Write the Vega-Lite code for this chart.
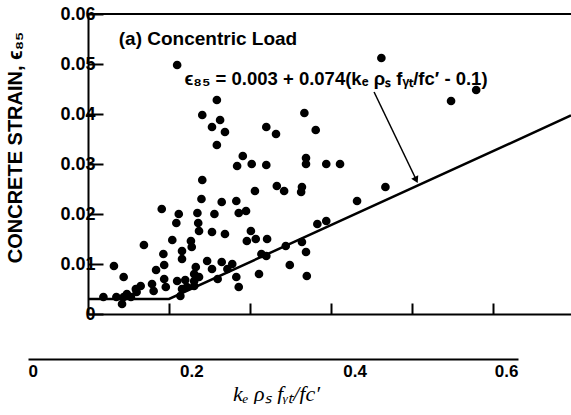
{
  "$schema": "https://vega.github.io/schema/vega-lite/v6.json",
  "width": 483,
  "height": 300,
  "padding": {"left": 5, "top": 5, "right": 0, "bottom": 0},
  "background": "white",
  "config": {
    "view": {"stroke": null},
    "font": "Liberation Sans",
    "axis": {"grid": false, "domainColor": "black", "tickColor": "black", "labelColor": "black", "titleColor": "black", "domainWidth": 2, "tickWidth": 2}
  },
  "datasets": {
    "pts": [
      {"k":0.110,"e":0.0498},{"k":0.159,"e":0.0428},{"k":0.141,"e":0.0398},{"k":0.163,"e":0.0388},{"k":0.153,"e":0.0374},
      {"k":0.169,"e":0.0364},{"k":0.159,"e":0.0338},{"k":0.220,"e":0.0374},{"k":0.232,"e":0.0360},{"k":0.191,"e":0.0316},
      {"k":0.184,"e":0.0296},{"k":0.202,"e":0.0300},{"k":0.220,"e":0.0298},{"k":0.362,"e":0.0512},{"k":0.448,"e":0.0426},
      {"k":0.479,"e":0.0448},{"k":0.267,"e":0.0402},{"k":0.281,"e":0.0368},{"k":0.269,"e":0.0312},{"k":0.269,"e":0.0300},
      {"k":0.294,"e":0.0300},{"k":0.311,"e":0.0300},{"k":0.141,"e":0.0268},{"k":0.206,"e":0.0246},{"k":0.233,"e":0.0256},
      {"k":0.242,"e":0.0246},{"k":0.263,"e":0.0244},{"k":0.264,"e":0.0254},{"k":0.332,"e":0.0226},{"k":0.367,"e":0.0254},
      {"k":0.283,"e":0.0180},{"k":0.294,"e":0.0186},{"k":0.140,"e":0.0230},{"k":0.165,"e":0.0224},{"k":0.183,"e":0.0226},
      {"k":0.195,"e":0.0206},{"k":0.186,"e":0.0202},{"k":0.091,"e":0.0210},{"k":0.112,"e":0.0200},{"k":0.109,"e":0.0182},
      {"k":0.135,"e":0.0202},{"k":0.136,"e":0.0182},{"k":0.137,"e":0.0166},{"k":0.156,"e":0.0200},{"k":0.153,"e":0.0164},
      {"k":0.169,"e":0.0160},{"k":0.127,"e":0.0146},{"k":0.128,"e":0.0134},{"k":0.104,"e":0.0148},{"k":0.069,"e":0.0138},
      {"k":0.201,"e":0.0166},{"k":0.196,"e":0.0146},{"k":0.207,"e":0.0150},{"k":0.221,"e":0.0150},{"k":0.244,"e":0.0136},
      {"k":0.264,"e":0.0144},{"k":0.269,"e":0.0124},{"k":0.214,"e":0.0120},{"k":0.220,"e":0.0116},{"k":0.093,"e":0.0120},
      {"k":0.116,"e":0.0126},{"k":0.116,"e":0.0110},{"k":0.032,"e":0.0096},{"k":0.094,"e":0.0098},{"k":0.084,"e":0.0088},
      {"k":0.133,"e":0.0094},{"k":0.131,"e":0.0080},{"k":0.147,"e":0.0106},{"k":0.153,"e":0.0090},{"k":0.165,"e":0.0104},
      {"k":0.172,"e":0.0090},{"k":0.178,"e":0.0100},{"k":0.183,"e":0.0074},{"k":0.160,"e":0.0070},{"k":0.186,"e":0.0054},
      {"k":0.211,"e":0.0080},{"k":0.249,"e":0.0098},{"k":0.270,"e":0.0076},{"k":0.044,"e":0.0074},{"k":0.094,"e":0.0070},
      {"k":0.096,"e":0.0054},{"k":0.110,"e":0.0066},{"k":0.120,"e":0.0068},{"k":0.131,"e":0.0066},{"k":0.137,"e":0.0074},
      {"k":0.131,"e":0.0056},{"k":0.065,"e":0.0056},{"k":0.059,"e":0.0050},{"k":0.060,"e":0.0044},{"k":0.048,"e":0.0040},
      {"k":0.044,"e":0.0034},{"k":0.019,"e":0.0034},{"k":0.042,"e":0.0020},{"k":0.079,"e":0.0060},{"k":0.114,"e":0.0036},
      {"k":0.081,"e":0.0046},{"k":0.122,"e":0.0054},{"k":0.116,"e":0.0050},{"k":0.035,"e":0.0034},{"k":0.053,"e":0.0034}
    ],
    "fit": [
      {"k":0.0,"e":0.003},{"k":0.1,"e":0.003},{"k":0.596,"e":0.0397}
    ],
    "lower": [{"k":0.0},{"k":0.6}],
    "one": [{}]
  },
  "layer": [
    {
      "layer": [
        {
          "data": {"name": "pts"},
          "mark": {"type": "circle", "size": 75, "color": "black", "opacity": 1},
          "encoding": {
            "x": {"field": "k", "type": "quantitative",
                  "scale": {"domain": [0, 0.596], "nice": false, "zero": false},
                  "axis": {"orient": "bottom", "title": null, "labels": false, "values": [0.1, 0.2, 0.3, 0.4, 0.5], "tickSize": -11}},
            "y": {"field": "e", "type": "quantitative",
                  "scale": {"domain": [0, 0.06], "nice": false},
                  "axis": {"values": [0, 0.01, 0.02, 0.03, 0.04, 0.05, 0.06], "tickSize": -15, "labelPadding": 8,
                           "labelFont": "Liberation Sans", "labelFontWeight": "bold", "labelFontSize": 18,
                           "labelExpr": "datum.value == 0 ? '0' : format(datum.value, '.2f')",
                           "title": "CONCRETE STRAIN, ϵ₈₅", "titleFont": "Liberation Sans", "titleFontWeight": "bold", "titleFontSize": 20,
                           "titlePadding": 34, "titleY": 133}}
          }
        },
        {
          "data": {"name": "fit"},
          "mark": {"type": "line", "color": "black", "strokeWidth": 2.5},
          "encoding": {
            "x": {"field": "k", "type": "quantitative"},
            "y": {"field": "e", "type": "quantitative"}
          }
        },
        {
          "data": {"name": "one"},
          "mark": {"type": "rule", "color": "black", "strokeWidth": 2},
          "encoding": {"y": {"datum": 0.06}}
        },
        {
          "data": {"name": "one"},
          "mark": {"type": "text", "text": "(a)  Concentric Load", "align": "left", "baseline": "middle", "font": "Liberation Sans", "fontWeight": "bold", "fontSize": 19, "color": "black"},
          "encoding": {"x": {"datum": 0.038}, "y": {"datum": 0.055}}
        },
        {
          "data": {"name": "one"},
          "mark": {"type": "text", "text": "ϵ₈₅ = 0.003 + 0.074(kₑ ρₛ fᵧₜ/fc′ - 0.1)", "align": "left", "baseline": "middle", "font": "Liberation Sans", "fontWeight": "bold", "fontSize": 18.5, "color": "black"},
          "encoding": {"x": {"datum": 0.119}, "y": {"datum": 0.047}}
        },
        {
          "data": {"name": "one"},
          "mark": {"type": "rule", "color": "black", "strokeWidth": 1.5},
          "encoding": {"x": {"datum": 0.353}, "y": {"datum": 0.0444}, "x2": {"datum": 0.404}, "y2": {"datum": 0.0272}}
        },
        {
          "data": {"name": "one"},
          "mark": {"type": "point", "shape": "triangle-up", "filled": true, "color": "black", "size": 60, "angle": 154, "opacity": 1},
          "encoding": {"x": {"datum": 0.405}, "y": {"datum": 0.0268}}
        }
      ]
    },
    {
      "data": {"name": "lower"},
      "mark": {"type": "point", "opacity": 0},
      "encoding": {
        "x": {"field": "k", "type": "quantitative",
              "scale": {"domain": [0, 0.6], "range": [-60, 430], "nice": false},
              "axis": {"orient": "bottom", "offset": 45, "values": [0, 0.2, 0.4, 0.6], "ticks": false,
                       "labelFont": "Liberation Sans", "labelFontWeight": "bold", "labelFontSize": 17, "labelPadding": 4,
                       "labelExpr": "datum.value == 0 ? '0' : format(datum.value, '.1f')",
                       "title": "kₑ ρₛ fᵧₜ/fc′", "titleFont": "Liberation Serif", "titleFontStyle": "italic", "titleFontWeight": "normal", "titleFontSize": 22,
                       "titlePadding": 4, "titleX": 188}},
        "y": {"datum": 0}
      }
    }
  ],
  "resolve": {"scale": {"x": "independent"}, "axis": {"x": "independent"}}
}
